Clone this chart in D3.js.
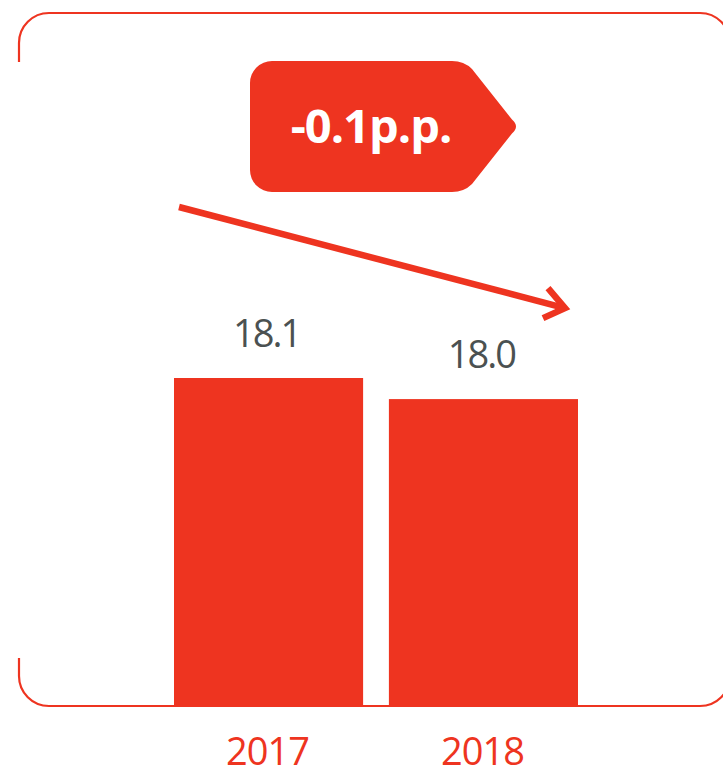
<!DOCTYPE html>
<html>
<head>
<meta charset="utf-8">
<script src="https://cdn.jsdelivr.net/npm/d3@7"></script>
<style>
  body { margin: 0; background: #fff; }
  svg { display: block; }
</style>
</head>
<body>
<svg width="723" height="767"></svg>
<script>
const years = ['2017', '2018'];
const values = [18.1, 18.0];
const valueLabels = ['18.1', '18.0'];
const changeLabel = '-0.1p.p.';

const red = '#ee3420';
const grey = '#4b5151';

const svg = d3.select('svg');

let x = d3.scaleBand()
    .domain(years)
    .range([174, 578])
    .paddingInner(0.12)
    .paddingOuter(0);

// axis does not start at zero in the original
let y = d3.scaleLinear().domain([16.54, 18.1]).range([707, 378]);

// frame, open on the left side
let r = 30, fx0 = 19, fy0 = 13, fx1 = 730, fy1 = 706;
let frame = d3.path();
frame.moveTo(fx0, 62);
frame.lineTo(fx0, fy0 + r);
frame.arcTo(fx0, fy0, fx0 + r, fy0, r);
frame.lineTo(fx1 - r, fy0);
frame.arcTo(fx1, fy0, fx1, fy0 + r, r);
frame.lineTo(fx1, fy1 - r);
frame.arcTo(fx1, fy1, fx1 - r, fy1, r);
frame.lineTo(fx0 + r, fy1);
frame.arcTo(fx0, fy1, fx0, fy1 - r, r);
frame.lineTo(fx0, 658);

svg.append('path')
    .attr('d', frame.toString())
    .attr('fill', 'none')
    .attr('stroke', red)
    .attr('stroke-width', 2.2);

// bars
svg.selectAll('rect.bar')
    .data(values)
    .enter()
    .append('rect')
    .attr('class', 'bar')
    .attr('x', (d, i) => x(years[i]))
    .attr('y', d => y(d))
    .attr('width', x.bandwidth())
    .attr('height', d => y.range()[0] - y(d))
    .attr('fill', red);

// value labels
svg.selectAll('text.val')
    .data(values)
    .enter()
    .append('text')
    .attr('class', 'val')
    .attr('x', (d, i) => x(years[i]) + x.bandwidth() / 2 - 2)
    .attr('y', d => y(d) - 31)
    .attr('text-anchor', 'middle')
    .attr('font-family', 'Open Sans')
    .attr('font-size', 38)
    .attr('letter-spacing', -2)
    .attr('fill', grey)
    .text((d, i) => valueLabels[i]);

// year labels
svg.selectAll('text.year')
    .data(years)
    .enter()
    .append('text')
    .attr('class', 'year')
    .attr('x', d => x(d) + x.bandwidth() / 2 - 1)
    .attr('y', 765)
    .attr('text-anchor', 'middle')
    .attr('font-family', 'Open Sans')
    .attr('font-size', 38)
    .attr('letter-spacing', -1)
    .attr('fill', red)
    .text(d => d);

// trend arrow, from above the first bar to above the second
let ax0 = x(years[0]) + 5, ay0 = y(values[0]) - 171;
let ax1 = x(years[1]) + x.bandwidth() - 13, ay1 = y(values[1]) - 91;
svg.append('line')
    .attr('x1', ax0).attr('y1', ay0)
    .attr('x2', ax1 - 4).attr('y2', ay1 - 1)
    .attr('stroke', red)
    .attr('stroke-width', 6.5);
svg.append('polyline')
    .attr('points', [ax1 - 17, ay1 - 20, ax1, ay1, ax1 - 22, ay1 + 10].join(','))
    .attr('fill', 'none')
    .attr('stroke', red)
    .attr('stroke-width', 6.5)
    .attr('stroke-linejoin', 'miter');

// change badge (tag shape)
let bx = 250, by = 61, bw = 210, bh = 131, br = 22, tip = 58;
let tag = d3.path();
tag.moveTo(bx + br, by);
tag.lineTo(bx + bw - 8, by);
tag.quadraticCurveTo(bx + bw + 4, by, bx + bw + 12, by + 8);
tag.lineTo(bx + bw + tip - 6, by + bh / 2 - 7);
tag.quadraticCurveTo(bx + bw + tip + 2, by + bh / 2, bx + bw + tip - 6, by + bh / 2 + 7);
tag.lineTo(bx + bw + 12, by + bh - 8);
tag.quadraticCurveTo(bx + bw + 4, by + bh, bx + bw - 8, by + bh);
tag.lineTo(bx + br, by + bh);
tag.arcTo(bx, by + bh, bx, by + bh - br, br);
tag.lineTo(bx, by + br);
tag.arcTo(bx, by, bx + br, by, br);
tag.closePath();

svg.append('path')
    .attr('d', tag.toString())
    .attr('fill', red);

svg.append('text')
    .attr('x', 371)
    .attr('y', 143)
    .attr('text-anchor', 'middle')
    .attr('font-family', 'Open Sans')
    .attr('font-weight', 'bold')
    .attr('font-size', 47)
    .attr('letter-spacing', -1)
    .attr('fill', '#fff')
    .text(changeLabel);
</script>
</body>
</html>
